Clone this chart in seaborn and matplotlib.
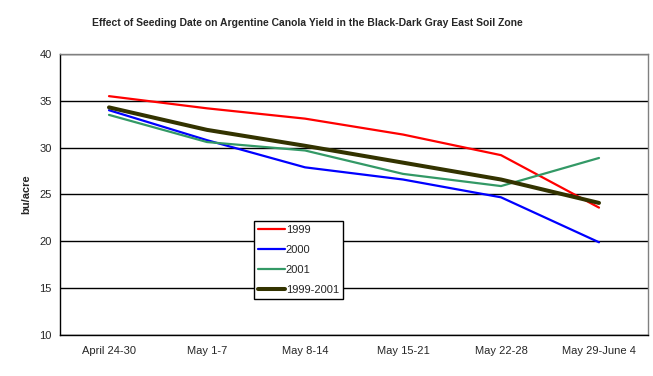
import matplotlib
matplotlib.use("Agg")
import matplotlib.pyplot as plt
import seaborn as sns
import pandas as pd

categories = ["April 24-30", "May 1-7", "May 8-14", "May 15-21", "May 22-28", "May 29-June 4"]
y1999 = [35.5, 34.2, 33.1, 31.4, 29.2, 23.6]
y2000 = [34.0, 30.8, 27.9, 26.6, 24.7, 19.9]
y2001 = [33.5, 30.6, 29.7, 27.2, 25.9, 28.9]
yavg = [34.3, 31.9, 30.2, 28.4, 26.6, 24.1]
series_names = ["1999", "2000", "2001", "1999-2001"]

sns.set_style("white")
plt.rcParams['font.family'] = ['Liberation Sans', 'DejaVu Sans']

rows = []
for name, vals in zip(series_names, [y1999, y2000, y2001, yavg]):
    for i, (c, v) in enumerate(zip(categories, vals)):
        rows.append({"series": name, "x": i, "cat": c, "value": v})
df = pd.DataFrame(rows)

palette = {"1999": "#FF0000", "2000": "#0000FF", "2001": "#339966", "1999-2001": "#333300"}
widths = {"1999": 1.6, "2000": 1.6, "2001": 1.6, "1999-2001": 2.9}

fig = plt.figure(figsize=(6.53, 3.76), dpi=100)
ax = fig.add_axes([60/653, 41/376, 588/653, 281/376])

for name in series_names:
    sub = df[df["series"] == name]
    sns.lineplot(data=sub, x="x", y="value", color=palette[name], lw=widths[name],
                 ax=ax, label=name, sort=False)

ax.set_xlim(-0.5, 5.5)
ax.set_ylim(10, 40)
ax.set_yticks([10, 15, 20, 25, 30, 35, 40])
ax.set_xticks(range(len(categories)))
ax.set_xticklabels(categories, fontsize=8)
ax.set_xticks([i - 0.5 for i in range(len(categories) + 1)], minor=True)
ax.tick_params(axis='x', which='major', length=0, pad=8)
ax.tick_params(axis='x', which='minor', length=4, width=1, color='black', direction='out')
ax.tick_params(axis='y', which='major', length=4, width=1, color='black', direction='out',
               labelsize=8, pad=2)
ax.yaxis.grid(True, color='black', lw=1)
ax.set_axisbelow(True)
ax.set_xlabel("")
ax.set_ylabel("bu/acre", fontsize=8, fontweight='bold', labelpad=6)

for s in ["left", "bottom"]:
    ax.spines[s].set_color("black")
    ax.spines[s].set_linewidth(1)
for s in ["top", "right"]:
    ax.spines[s].set_color("#808080")
    ax.spines[s].set_linewidth(1)

leg = ax.legend(loc='lower left', bbox_to_anchor=(0.33, 0.128), borderaxespad=0,
                fontsize=8, frameon=True, fancybox=False, shadow=False,
                handlelength=2.4, handletextpad=0.1, labelspacing=0.9,
                borderpad=0.35)
leg.get_frame().set_edgecolor('black')
leg.get_frame().set_linewidth(1)
leg.get_frame().set_alpha(1)

fig.text(307/653, 1 - 23/376, "Effect of Seeding Date on Argentine Canola Yield in the Black-Dark Gray East Soil Zone",
         ha='center', va='center', fontsize=7.5, fontweight='bold')

fig.savefig("out.png", dpi=100, facecolor='white')
